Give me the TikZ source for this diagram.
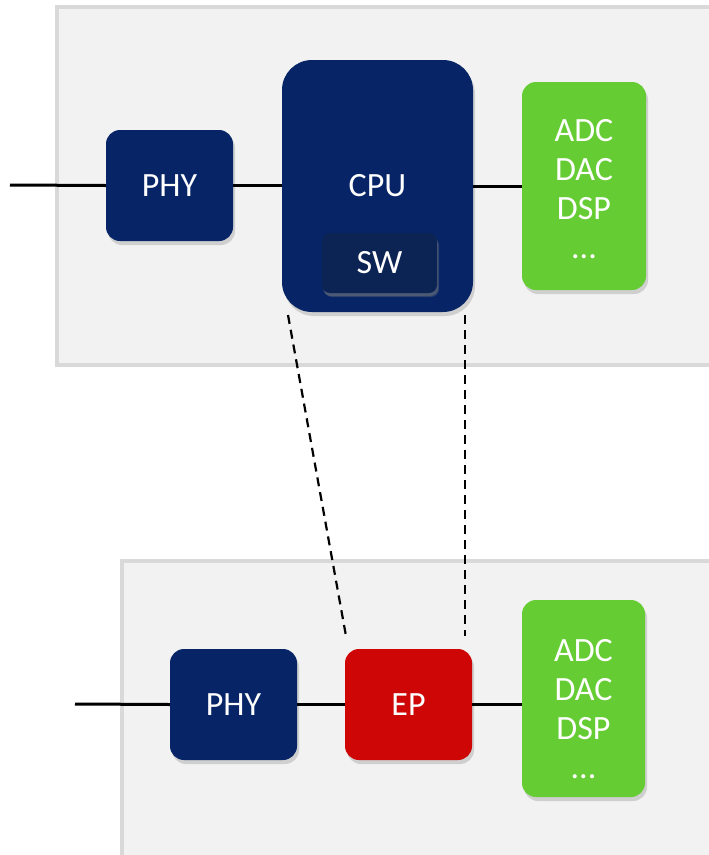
\documentclass[tikz,border=0pt]{standalone}
\usepackage{fontspec}
\setmainfont{Carlito}
\usetikzlibrary{shadows}
\definecolor{navy}{RGB}{6,36,102}
\definecolor{swnavy}{RGB}{12,36,84}
\definecolor{epred}{RGB}{206,6,6}
\definecolor{adgreen}{RGB}{102,204,51}
\definecolor{panelfill}{RGB}{242,242,242}
\definecolor{panelline}{RGB}{217,217,217}
\begin{document}
\begin{tikzpicture}[x=1pt,y=-1pt,
  panel/.style={draw=panelline,line width=4pt,fill=panelfill},
  blk/.style={rounded corners=14pt,draw=none,text=white,
    font=\fontsize{34}{39}\selectfont,align=center,inner sep=0pt,
    drop shadow={shadow xshift=2pt,shadow yshift=-4pt,opacity=0.3}},
  lbl/.style={text=white,font=\fontsize{34}{39}\selectfont,align=center,inner sep=0pt},
  wire/.style={line width=3pt},
  dashline/.style={line width=2.2pt,dash pattern=on 9pt off 6pt}]
\useasboundingbox (0,0) rectangle (709,855);
\fill[white] (0,0) rectangle (709,855);
% panels
\draw[panel] (57,7) rectangle (730,365);
\draw[panel] (122,561) rectangle (730,880);
% top row
\node[blk,fill=navy,minimum width=127pt,minimum height=111pt] (phy1) at (169.5,185.5) {PHY};
\node[blk,fill=navy,rounded corners=30pt,minimum width=191pt,minimum height=252pt] (cpu) at (377.5,186) {};
\node[lbl] (cpulbl) at (377.5,186) {CPU};
\node[blk,fill=swnavy,rounded corners=8pt,minimum width=115pt,minimum height=60pt,
  drop shadow={shadow xshift=1pt,shadow yshift=-3pt,opacity=0.4}] (sw) at (379.5,263) {SW};
\node[blk,fill=adgreen,minimum width=124pt,minimum height=208pt] (ad1) at (584,186) {};
\node[lbl] (ad1lbl) at (584,189) {ADC\\DAC\\DSP\\...};
% bottom row
\node[blk,fill=navy,minimum width=127pt,minimum height=111pt] (phy2) at (233.5,704.5) {PHY};
\node[blk,fill=epred,minimum width=127pt,minimum height=111pt] (ep) at (408.5,704.5) {EP};
\node[blk,fill=adgreen,minimum width=123pt,minimum height=197pt] (ad2) at (583.5,698.5) {};
\node[lbl] (ad2lbl) at (583.5,709) {ADC\\DAC\\DSP\\...};
% wires
\coordinate (in1) at (10,185);
\coordinate (in2) at (75,704);
\draw[wire] (in1) -- (phy1.west);
\draw[wire] (phy1.east) -- (cpu.west |- phy1.east);
\draw[wire] (cpu.east |- ad1.west) -- (ad1.west);
\draw[wire] (in2) -- (phy2.west);
\draw[wire] (phy2.east) -- (ep.west);
\draw[wire] (ep.east) -- (ad2.west |- ep.east);
% dashed links
\coordinate (c1) at (288,315);
\coordinate (c2) at (465,315);
\coordinate (e1) at (346,636);
\coordinate (e2) at (465,636);
\draw[dashline] (c1) -- (e1);
\draw[dashline] (c2) -- (e2);
\end{tikzpicture}
\end{document}
